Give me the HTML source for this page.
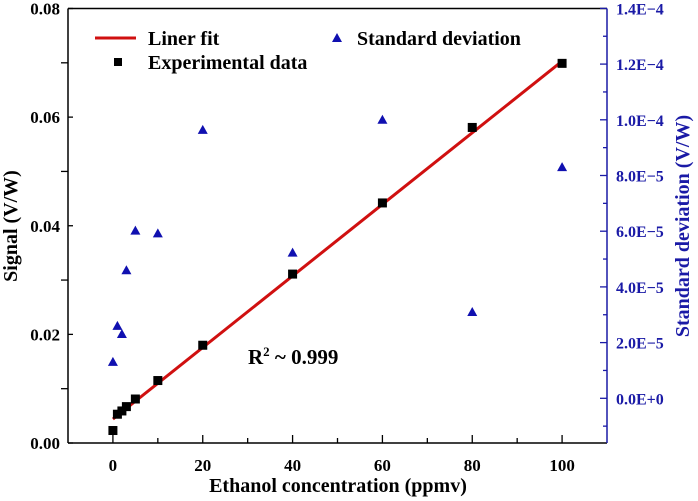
<!DOCTYPE html>
<html><head><meta charset="utf-8"><style>
body{margin:0;background:#fff}
svg{display:block;font-family:"Liberation Serif",serif;font-weight:bold}
</style></head><body>
<svg id="chart" width="698" height="501" viewBox="0 0 698 501" xmlns="http://www.w3.org/2000/svg"></svg>
<script>
const concentrations=[0,1,2,3,5,10,20,40,60,80,100];
const signalValues=[0.0023,0.0053,0.0059,0.0067,0.0081,0.0115,0.018,0.0311,0.0442,0.0581,0.0699];
const sdValues=[1.31e-5,2.6e-5,2.31e-5,4.6e-5,6.02e-5,5.92e-5,9.64e-5,5.23e-5,1.0e-4,3.1e-5,8.3e-5];
const fitEnds=[0,100];
const fitSlope=0.000659, fitIntercept=0.0044;
const xTicks=[0,20,40,60,80,100];
const yTicks=[0,0.02,0.04,0.06,0.08];
const yTickLabels=["0.00","0.02","0.04","0.06","0.08"];
const rTicks=[0,2e-5,4e-5,6e-5,8e-5,1e-4,1.2e-4,1.4e-4];
const rTickLabels=["0.0E+0","2.0E\u22125","4.0E\u22125","6.0E\u22125","8.0E\u22125","1.0E\u22124","1.2E\u22124","1.4E\u22124"];

const L=68,R=607,T=8.5,B=443;
const X=v=>L+(v+10)/120*(R-L);
const Y=v=>B-v/0.08*(B-T);
const YR=v=>398.3-v/2e-5*55.7;
const svg=document.getElementById('chart');
const NS="http://www.w3.org/2000/svg";
function mk(tag,attrs,parent){const e=document.createElementNS(NS,tag);for(const k in attrs)e.setAttribute(k,attrs[k]);(parent||svg).appendChild(e);return e;}
function txt(s,attrs,parent){const e=mk('text',attrs,parent);e.textContent=s;return e;}

const ax=mk('g',{});


mk('line',{x1:L,y1:T,x2:R,y2:T,stroke:'#000','stroke-width':1.5},ax);
mk('line',{x1:L,y1:T,x2:L,y2:B,stroke:'#000','stroke-width':1.5},ax);
mk('line',{x1:L,y1:B,x2:R,y2:B,stroke:'#000','stroke-width':1.5},ax);
mk('line',{x1:R,y1:T,x2:R,y2:B,stroke:'#1a1aa6','stroke-width':1.5},ax);

for(let v=0;v<=100;v+=10){const x=X(v);mk('line',{x1:x,y1:B,x2:x,y2:B-(v%20===0?8:5),stroke:'#000','stroke-width':1.3},ax);}
xTicks.forEach(v=>{const t=txt(String(v),{x:X(v),y:B+28,'text-anchor':'middle','font-size':17},ax);

});
for(let k=0;k<=8;k++){const y=Y(k*0.01);if(k%2===1)mk('line',{x1:L,y1:y,x2:L-7,y2:y,stroke:'#000','stroke-width':1.3},ax);else mk('line',{x1:L,y1:y,x2:L+5,y2:y,stroke:'#000','stroke-width':1.3},ax);}
yTicks.forEach((v,i)=>{const t=txt(yTickLabels[i],{x:60,y:Y(v)+6,'text-anchor':'end','font-size':17},ax);

});
for(let k=-1;k<=14;k++){const y=YR(k*1e-5);if(y>B||y<T-1)continue;mk('line',{x1:R,y1:y,x2:R-(k%2===0?7:4),y2:y,stroke:'#1a1aa6','stroke-width':1.3},ax);}
rTicks.forEach((v,i)=>{const t=txt(rTickLabels[i],{x:616,y:YR(v)+6,'font-size':16,fill:'#1a1aa6'},ax);

});

const xt=txt('Ethanol concentration (ppmv)',{x:338,y:492,'text-anchor':'middle','font-size':20});


const yt=txt('Signal  (V/W)',{x:0,y:0,'text-anchor':'middle','font-size':20,transform:'translate(17,226) rotate(-90)'});


const rt=txt('Standard deviation (V/W)',{x:0,y:0,'text-anchor':'middle','font-size':20,fill:'#1a1aa6',transform:'translate(689,226) rotate(-90)'});



const fl=mk('line',{x1:X(fitEnds[0]),y1:Y(fitIntercept+fitSlope*fitEnds[0]),x2:X(fitEnds[1]),y2:Y(fitIntercept+fitSlope*fitEnds[1]),stroke:'#d01010','stroke-width':3});



sdValues.forEach((v,i)=>{const x=X(concentrations[i]),y=YR(v);
const p=mk('polygon',{points:`${x},${y-5} ${x-5},${y+4} ${x+5},${y+4}`,fill:'#1010b0'});

});
signalValues.forEach((v,i)=>{const x=X(concentrations[i]),y=Y(v);
const r=mk('rect',{x:x-4.5,y:y-4.5,width:9,height:9,fill:'#000'});

});

const lg=mk('g',{});


mk('line',{x1:95,y1:38,x2:136,y2:38,stroke:'#d01010','stroke-width':3},lg);
txt('Liner fit',{x:148,y:45,'font-size':20},lg);
mk('rect',{x:114,y:58,width:8,height:8,fill:'#000'},lg);
txt('Experimental data',{x:148,y:69,'font-size':20},lg);
mk('polygon',{points:'337,33 332,42 342,42',fill:'#1010b0'},lg);
txt('Standard deviation',{x:357,y:45,'font-size':20},lg);

const r2=txt('',{x:248,y:364,'font-size':21});


r2.innerHTML='R<tspan dy="-8" font-size="13">2</tspan><tspan dy="8"> ~ 0.999</tspan>';
</script>
</body></html>
